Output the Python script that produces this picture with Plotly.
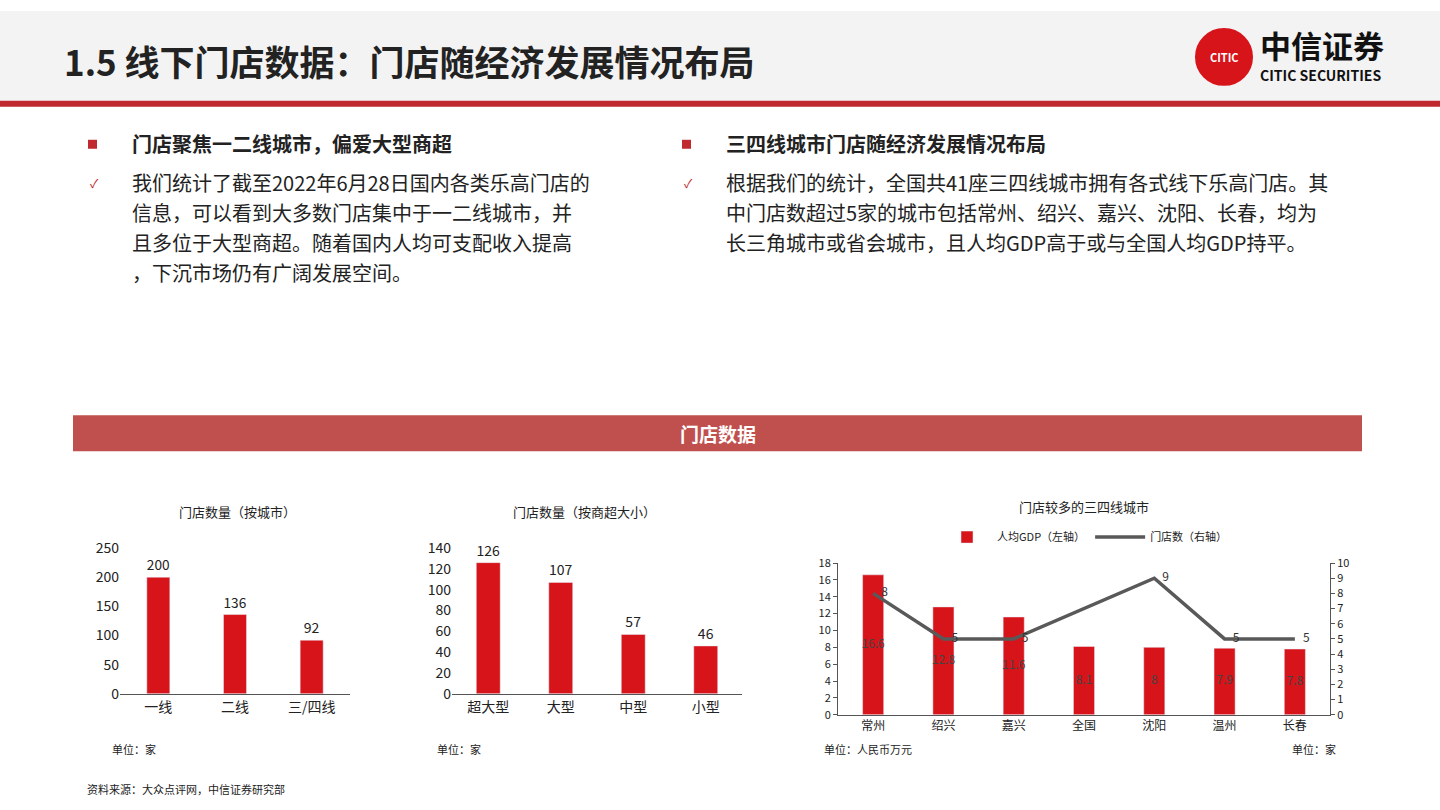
import plotly.graph_objects as go

W, H = 1440, 810
RED = "#d7141a"
FONT = "Noto Sans CJK SC"

city_tiers = ["一线", "二线", "三/四线"]
city_counts = [200, 136, 92]

mall_sizes = ["超大型", "大型", "中型", "小型"]
mall_counts = [126, 107, 57, 46]

cities = ["常州", "绍兴", "嘉兴", "全国", "沈阳", "温州", "长春"]
gdp = [16.6, 12.8, 11.6, 8.1, 8, 7.9, 7.8]
stores = [8, 5, 5, None, 9, 5, 5]
stores_line = [8, 5, 5, 7, 9, 5, 5]


def px(x):
    return x / W


def py(y):
    # screen pixel in the reference -> paper fraction (viewer offsets the page slightly)
    return 1 - ((y - 10) / 0.977) / H


fig = go.Figure()

fig.add_trace(go.Bar(x=city_tiers, y=city_counts, marker_color=RED, width=0.3,
                     text=city_counts, textposition="outside", cliponaxis=False,
                     textfont=dict(size=14, color="#222"), xaxis="x", yaxis="y", showlegend=False))
fig.add_trace(go.Bar(x=mall_sizes, y=mall_counts, marker_color=RED, width=0.33,
                     text=mall_counts, textposition="outside", cliponaxis=False,
                     textfont=dict(size=14, color="#222"), xaxis="x2", yaxis="y2", showlegend=False))
fig.add_trace(go.Bar(x=cities, y=gdp, marker_color=RED, width=0.3, name="人均GDP（左轴）",
                     xaxis="x3", yaxis="y3"))
fig.add_trace(go.Scatter(x=cities, y=[g / 2 for g in gdp], mode="text", showlegend=False,
                         text=[str(g) for g in gdp], textfont=dict(size=12, color="#444"),
                         xaxis="x3", yaxis="y3"))
fig.add_trace(go.Scatter(x=cities, y=stores_line, mode="lines", name="门店数（右轴）",
                         line=dict(color="#595959", width=3.5), xaxis="x3", yaxis="y4"))
fig.add_trace(go.Scatter(x=cities, y=stores, mode="text", showlegend=False,
                         text=[("" if s is None else "   " + str(s)) for s in stores],
                         textposition="middle right", textfont=dict(size=12, color="#333"),
                         xaxis="x3", yaxis="y4", cliponaxis=False))

ax = dict(showgrid=False, zeroline=False, tickfont=dict(size=14, color="#222"))
line_ax = dict(showline=True, linecolor="#555", ticks="outside", ticklen=4, tickcolor="#555")

fig.update_layout(
    width=W, height=H, margin=dict(l=0, r=0, t=0, b=0),
    paper_bgcolor="white", plot_bgcolor="rgba(0,0,0,0)",
    font=dict(family=FONT, color="#222"),
    bargap=0.5,
    xaxis=dict(domain=[px(120), px(350)], anchor="y", **ax, showline=True, linecolor="#555"),
    yaxis=dict(domain=[py(694), py(548)], range=[0, 250], dtick=50, anchor="x", **ax),
    xaxis2=dict(domain=[px(452), px(742)], anchor="y2", **ax, showline=True, linecolor="#555"),
    yaxis2=dict(domain=[py(694), py(548)], range=[0, 140], dtick=20, anchor="x2", **ax),
    xaxis3=dict(domain=[px(838), px(1330)], anchor="y3", showgrid=False, zeroline=False,
                tickfont=dict(size=12), showline=True, linecolor="#555"),
    yaxis3=dict(domain=[py(715), py(563)], range=[0, 18], dtick=2, anchor="x3", showgrid=False,
                zeroline=False, tickfont=dict(size=11), **line_ax),
    yaxis4=dict(domain=[py(715), py(563)], range=[0, 10], dtick=1, anchor="x3", overlaying="y3",
                side="right", showgrid=False, zeroline=False, tickfont=dict(size=11), **line_ax),
    legend=dict(orientation="h", x=px(1085), y=py(537), xanchor="center", yanchor="middle",
                font=dict(size=11), itemwidth=50, bgcolor="rgba(0,0,0,0)"),
)

shapes = [
    dict(type="rect", xref="paper", yref="paper", x0=0, x1=1, y0=py(100), y1=1,
         fillcolor="#f3f3f3", line_width=0, layer="below"),
    dict(type="rect", xref="paper", yref="paper", x0=0, x1=1, y0=py(106), y1=py(100),
         fillcolor="#c0292d", line_width=0),
    dict(type="rect", xref="paper", yref="paper", x0=px(73), x1=px(1362), y0=py(451), y1=py(415),
         fillcolor="#c0504d", line_width=0),
    dict(type="circle", xref="paper", yref="paper", x0=px(1196), x1=px(1252), y0=py(84), y1=py(28),
         fillcolor="#d7141a", line=dict(color="#d7141a")),
    dict(type="rect", xref="paper", yref="paper", x0=px(88), x1=px(97), y0=py(148), y1=py(139),
         fillcolor="#c0292d", line_width=0),
    dict(type="rect", xref="paper", yref="paper", x0=px(682), x1=px(691), y0=py(148), y1=py(139),
         fillcolor="#c0292d", line_width=0),
]
fig.update_layout(shapes=shapes)


def note(x, y, text, size=14, color="#222", anchor="left", bold=False):
    if bold:
        text = "<b>" + text + "</b>"
    fig.add_annotation(x=px(x), y=py(y), xref="paper", yref="paper", text=text, showarrow=False,
                       xanchor=anchor, yanchor="middle", align="left",
                       font=dict(size=size, color=color, family=FONT))


left_lines = ["我们统计了截至2022年6月28日国内各类乐高门店的",
              "信息，可以看到大多数门店集中于一二线城市，并",
              "且多位于大型商超。随着国内人均可支配收入提高",
              "，下沉市场仍有广阔发展空间。"]
right_lines = ["根据我们的统计，全国共41座三四线城市拥有各式线下乐高门店。其",
               "中门店数超过5家的城市包括常州、绍兴、嘉兴、沈阳、长春，均为",
               "长三角城市或省会城市，且人均GDP高于或与全国人均GDP持平。"]

note(62, 60, "1.5 线下门店数据：门店随经济发展情况布局", size=35, bold=True)
note(1224, 56, "CITIC", size=11, color="white", anchor="center", bold=True)
note(1258, 44, "中信证券", size=31, color="#111", bold=True)
note(1258, 74, "CITIC SECURITIES", size=14, color="#111", bold=True)

note(130, 143, "门店聚焦一二线城市，偏爱大型商超", size=20, bold=True)
note(88, 182, "✓", size=12, color="#c0292d")
for i, t in enumerate(left_lines):
    note(130, 182 + 30 * i, t, size=20)
note(724, 143, "三四线城市门店随经济发展情况布局", size=20, bold=True)
note(682, 182, "✓", size=12, color="#c0292d")
for i, t in enumerate(right_lines):
    note(724, 182 + 30 * i, t, size=20)

note(718, 433, "门店数据", size=19, color="white", anchor="center", bold=True)

note(237, 511, "门店数量（按城市）", size=13, anchor="center")
note(584, 511, "门店数量（按商超大小）", size=13, anchor="center")
note(1084, 506, "门店较多的三四线城市", size=13, anchor="center")

note(110, 749, "单位：家", size=11)
note(435, 749, "单位：家", size=11)
note(822, 749, "单位：人民币万元", size=11)
note(1290, 749, "单位：家", size=11)
note(85, 789, "资料来源：大众点评网，中信证券研究部", size=11)

fig.write_html("out.html", config={"displayModeBar": False},
               post_script="document.body.style.margin='0';")
